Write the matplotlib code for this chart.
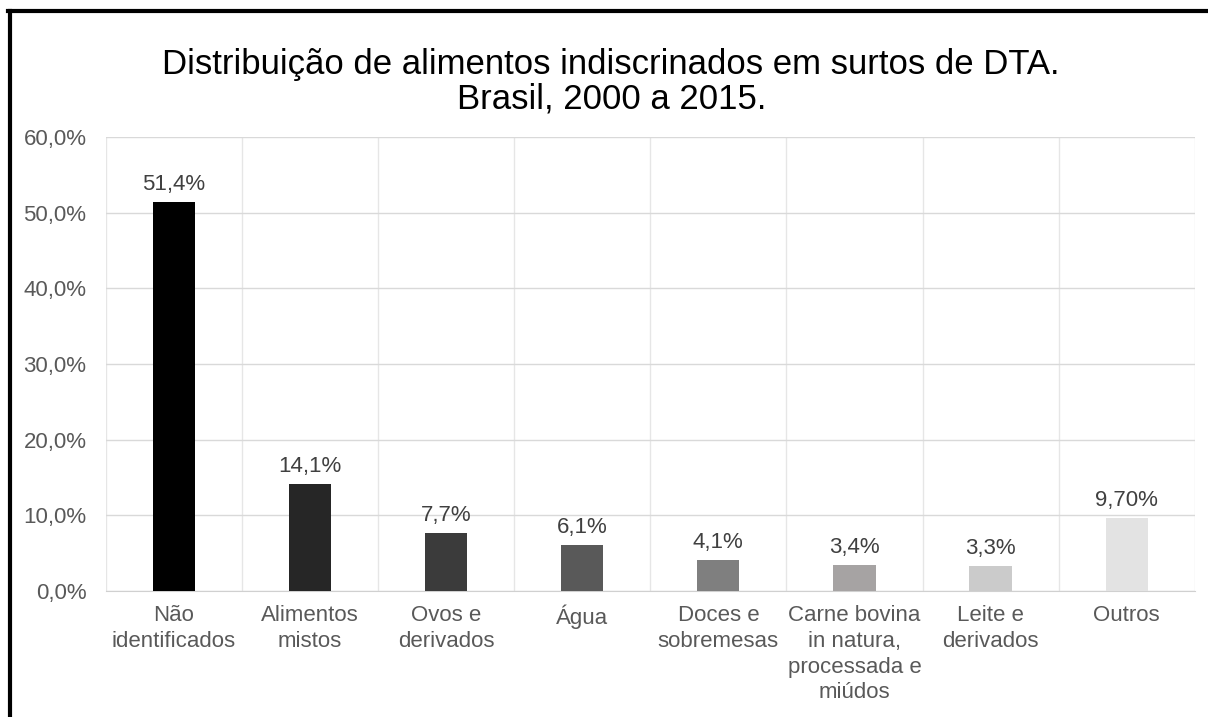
import matplotlib.pyplot as plt
from matplotlib.lines import Line2D
import numpy as np

plt.rcParams['font.family'] = ['Liberation Sans', 'DejaVu Sans']

categories = ["Não\nidentificados", "Alimentos\nmistos", "Ovos e\nderivados", "Água",
              "Doces e\nsobremesas", "Carne bovina\nin natura,\nprocessada e\nmiúdos",
              "Leite e\nderivados", "Outros"]
values = [51.4, 14.1, 7.7, 6.1, 4.1, 3.4, 3.3, 9.7]
value_labels = ["51,4%", "14,1%", "7,7%", "6,1%", "4,1%", "3,4%", "3,3%", "9,70%"]
bar_colors = ["#000000", "#262626", "#3b3b3b", "#595959", "#7f7f7f", "#a6a3a3", "#cbcbcb", "#e3e3e3"]
yticks = [0, 10, 20, 30, 40, 50, 60]
ytick_labels = ["0,0%", "10,0%", "20,0%", "30,0%", "40,0%", "50,0%", "60,0%"]

fig = plt.figure(figsize=(12.08, 7.17), dpi=100)
ax = fig.add_axes([0.0877, 0.1757, 0.9013, 0.6333])

x = np.arange(len(categories))
ax.bar(x, values, width=0.31, color=bar_colors, zorder=3)

for xi, v, lab in zip(x, values, value_labels):
    ax.annotate(lab, (xi, v), xytext=(0, 5), textcoords="offset points",
                ha="center", va="bottom", fontsize=16, color="#404040")

ax.set_xlim(-0.5, len(categories) - 0.5)
ax.set_ylim(0, 60)
ax.set_yticks(yticks)
ax.set_yticklabels(ytick_labels)
ax.set_xticks(x)
ax.set_xticklabels(categories, linespacing=1.3)
ax.tick_params(axis="both", length=0, labelsize=16, labelcolor="#595959")
ax.tick_params(axis="x", pad=10)
ax.tick_params(axis="y", pad=14)

# horizontal grid
ax.yaxis.grid(True, color="#d9d9d9", linewidth=1, zorder=0)
# vertical separators between categories
for b in np.arange(-0.5, len(categories), 1.0):
    ax.axvline(b, color="#e6e6e6", linewidth=1, zorder=0)

for s in ["top", "right", "left"]:
    ax.spines[s].set_visible(False)
ax.spines["bottom"].set_color("#d0d0d0")

fig.text(0.506, 0.886, "Distribuição de alimentos indiscrinados em surtos de DTA.\nBrasil, 2000 a 2015.",
         ha="center", va="center", fontsize=25, color="#000000", linespacing=1.05)

# outer black frame (left and top edges visible)
fig.add_artist(Line2D([0.0083, 0.0083], [0, 0.9847], color="black", linewidth=3, transform=fig.transFigure))
fig.add_artist(Line2D([0.0066, 1.0], [0.9847, 0.9847], color="black", linewidth=3, transform=fig.transFigure))

fig.savefig("out.png", dpi=100)
